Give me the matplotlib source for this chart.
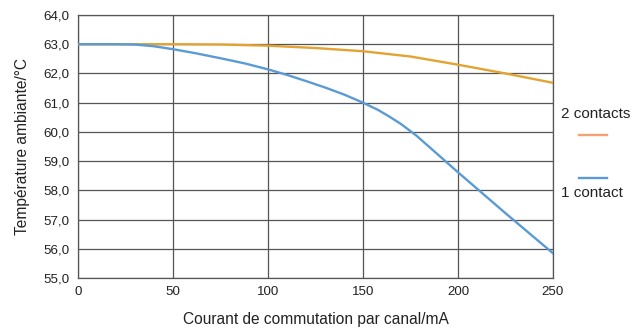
import numpy as np
import matplotlib.pyplot as plt
from matplotlib.ticker import FuncFormatter

# courant (mA) / temperature ambiante (°C)
i_2c = [0, 25, 50, 75, 100, 125, 150, 175, 200, 225, 250]
t_2c = [63.0, 63.0, 63.0, 62.99, 62.95, 62.87, 62.76, 62.58, 62.30, 62.0, 61.68]

i_1c = [0, 20, 30, 40, 50, 62, 75, 88, 100, 110, 120, 130, 140, 150, 158, 164, 170, 178, 185, 200, 225, 250]
t_1c = [63.0, 63.0, 62.99, 62.93, 62.83, 62.69, 62.52, 62.34, 62.14, 61.95, 61.74, 61.52, 61.28, 61.0, 60.75, 60.52, 60.27, 59.88, 59.48, 58.62, 57.22, 55.85]

x_ticks = [0, 50, 100, 150, 200, 250]
y_ticks = np.arange(55, 65, 1)

plt.rcParams['font.family'] = ['Liberation Sans', 'DejaVu Sans']
plt.rcParams['font.size'] = 9.6

fig = plt.figure(figsize=(6.37, 3.31), dpi=100)
ax = fig.add_axes([0.1225, 0.16, 0.7455, 0.7947])

ax.plot(i_2c, t_2c, color='#e3a332', lw=1.7, zorder=3)
ax.plot(i_1c, t_1c, color='#5b9bd5', lw=1.7, zorder=3)

ax.set_xlim(0, 250)
ax.set_ylim(55, 64)
ax.set_xticks(x_ticks)
ax.set_yticks(y_ticks)
ax.yaxis.set_major_formatter(FuncFormatter(lambda v, p: f"{v:.1f}".replace('.', ',')))
ax.tick_params(length=0, pad=6, colors='#222222', labelsize=9.6)
ax.grid(True, color='#555555', lw=0.9)
ax.set_axisbelow(True)
for s in ax.spines.values():
    s.set_color('#555555')
    s.set_linewidth(0.9)

ax.set_xlabel('Courant de commutation par canal/mA', labelpad=10, color='#222222', fontsize=11.2)
ax.set_ylabel('Température ambiante/°C', labelpad=10, color='#222222', fontsize=11.2)

# légende à droite
fig.text(0.880, 0.655, '2 contacts', fontsize=11, color='#222222', va='center')
fig.add_artist(plt.Line2D([0.909, 0.953], [0.592, 0.592], color='#f4a272', lw=1.7))
fig.add_artist(plt.Line2D([0.909, 0.953], [0.461, 0.461], color='#5b9bd5', lw=1.7))
fig.text(0.880, 0.418, '1 contact', fontsize=11, color='#222222', va='center')

fig.savefig('out.png', dpi=100)
